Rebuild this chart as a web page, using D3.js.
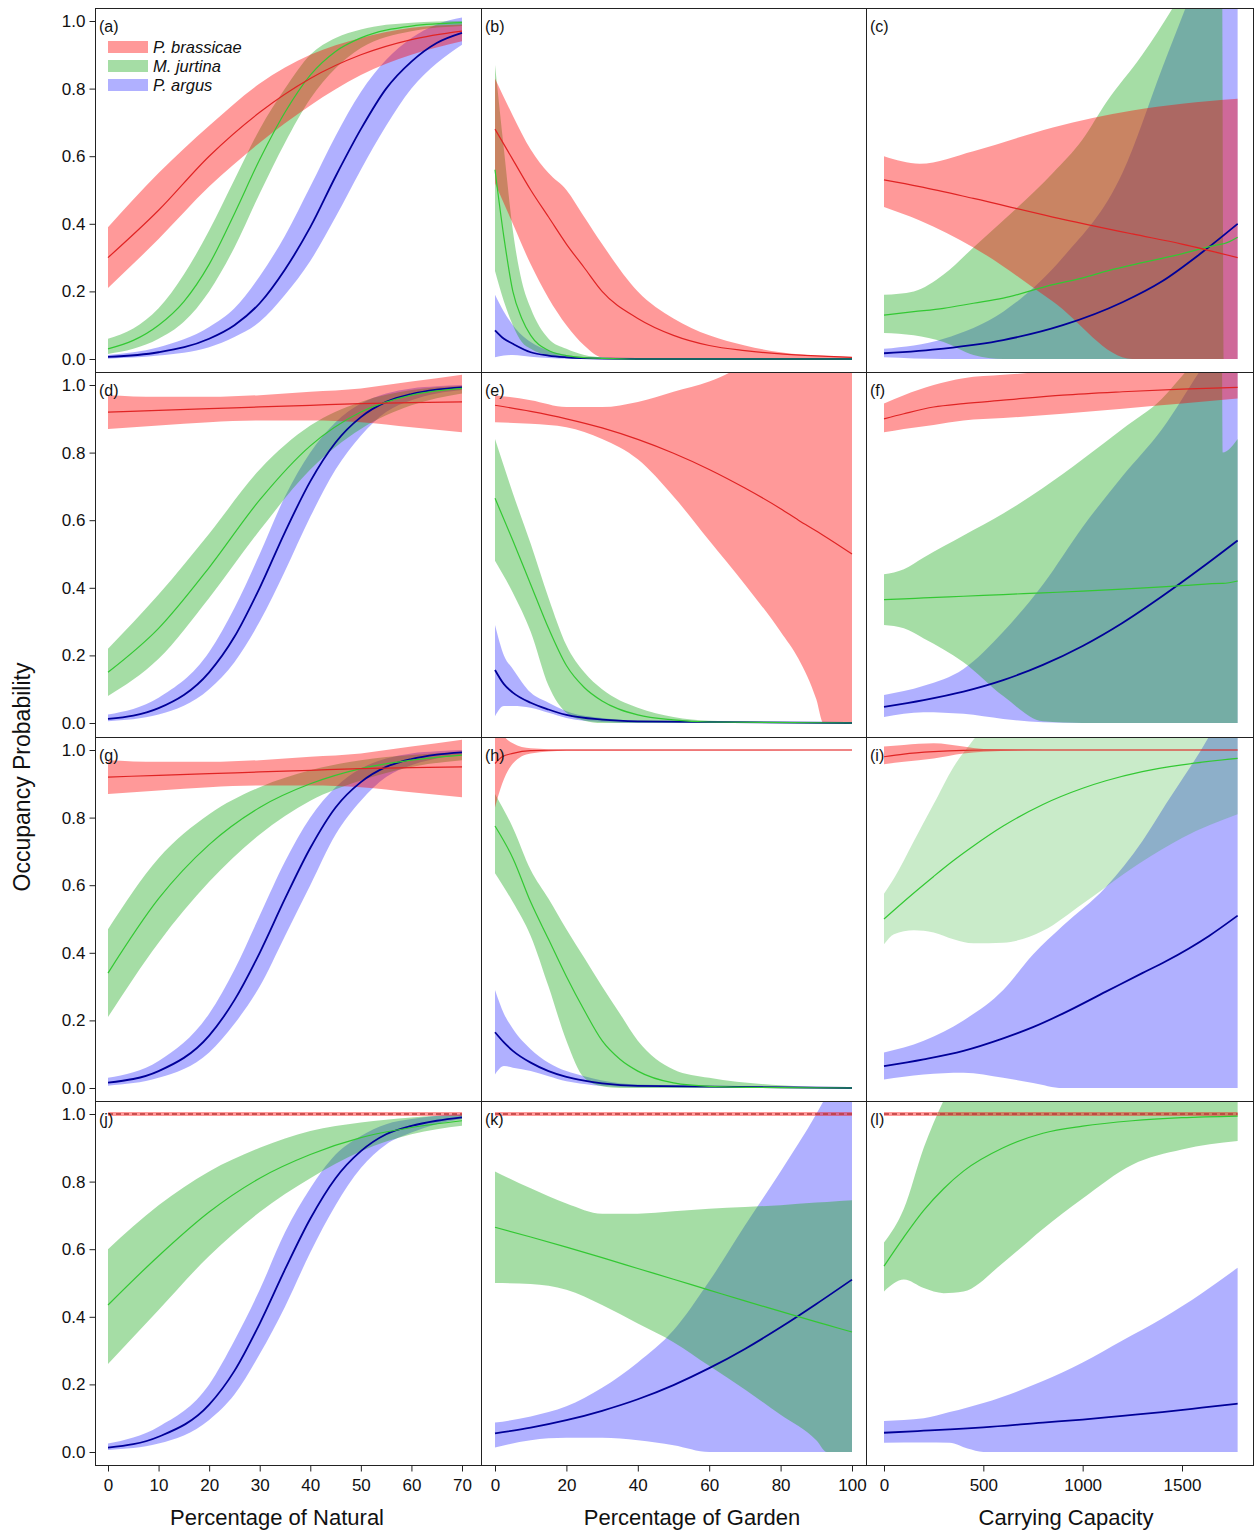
<!DOCTYPE html>
<html>
<head>
<meta charset="utf-8">
<script src="https://cdn.jsdelivr.net/npm/d3@7"></script>
<style>
body { margin: 0; background: #fff; }
text { font-family: Arial, "Liberation Sans", sans-serif; fill: #111; }
</style>
</head>
<body>
<svg id="chart" width="1256" height="1531"></svg>
<script>
// ---- data: rows are [x, fit, lower, upper] ----
var species = ["P. brassicae", "M. jurtina", "P. argus"];
var panelLetters = ["a", "b", "c", "d", "e", "f", "g", "h", "i", "j", "k", "l"];
var xTitles = ["Percentage of Natural", "Percentage of Garden", "Carrying Capacity"];
var xTicksNatural = [0, 10, 20, 30, 40, 50, 60, 70];
var xTicksGarden = [0, 20, 40, 60, 80, 100];
var xTicksCapacity = [0, 500, 1000, 1500];
var yTicks = [0, 0.2, 0.4, 0.6, 0.8, 1.0];

var a_brassicae = [[0,.30,.21,.39],[10,.44,.355,.55],[20,.60,.51,.69],[30,.73,.64,.815],[40,.83,.75,.90],[50,.90,.84,.95],[60,.945,.90,.98],[70,.97,.94,.99]];
var a_jurtina = [[0,.03,.015,.06],[5,.055,.03,.09],[10,.10,.06,.15],[15,.17,.11,.25],[20,.28,.20,.38],[25,.43,.33,.53],[30,.59,.49,.68],[35,.73,.64,.80],[40,.84,.77,.90],[45,.91,.86,.95],[50,.95,.92,.975],[60,.985,.97,.995],[70,.995,.985,1.0]];
var a_argus = [[0,.006,.001,.012],[10,.02,.01,.035],[20,.06,.035,.095],[25,.10,.065,.15],[30,.165,.11,.245],[35,.265,.19,.365],[40,.39,.29,.51],[45,.54,.42,.66],[50,.68,.56,.79],[55,.80,.69,.885],[60,.88,.80,.95],[65,.935,.875,.99],[70,.965,.93,1.01]];

var b_brassicae = [[0,.68,.52,.83],[5,.59,.40,.72],[10,.50,.28,.62],[15,.42,.18,.55],[20,.34,.10,.50],[25,.27,.04,.42],[30,.20,.005,.34],[40,.12,0,.20],[50,.07,0,.12],[60,.04,0,.07],[70,.025,0,.04],[80,.015,0,.02],[90,.009,0,.01],[100,.005,0,.006]];
var b_jurtina = [[0,.56,.26,.87],[2.5,.36,.17,.62],[5,.20,.10,.38],[7.5,.12,.05,.23],[10,.07,.03,.15],[15,.025,.01,.06],[20,.01,.003,.03],[25,.004,.001,.012],[30,.002,0,.005],[40,0,0,.001],[100,0,0,0]];
var b_argus = [[0,.085,.005,.19],[2.5,.06,.01,.14],[5,.045,.012,.10],[10,.02,.007,.05],[15,.01,.003,.025],[20,.005,.001,.012],[30,.001,0,.003],[40,0,0,.001],[100,0,0,0]];

var c_brassicae = [[0,.53,.45,.60],[180,.51,.41,.578],[450,.475,.33,.615],[850,.42,.17,.685],[1250,.37,0,.735],[1500,.34,0,.755],[1780,.30,0,.77]];
var c_jurtina = [[0,.13,.077,.19],[150,.14,.07,.20],[300,.15,.05,.25],[450,.165,.012,.33],[600,.18,0,.41],[850,.22,0,.55],[1000,.24,0,.65],[1120,.26,0,.76],[1300,.285,0,.90],[1455,.305,0,1.04],[1700,.34,0,1.3],[1710,.341,0,0],[1780,.36,0,0]];
var c_argus = [[0,.017,.005,.03],[300,.031,0,.06],[600,.056,0,.14],[900,.10,0,.30],[1200,.168,0,.55],[1400,.23,0,.86],[1600,.315,0,1.17],[1780,.40,0,1.5]];

var d_brassicae = [[0,.92,.87,.97],[10,.925,.88,.965],[20,.93,.89,.965],[30,.935,.895,.97],[40,.94,.895,.98],[50,.945,.89,.99],[60,.948,.875,1.01],[70,.95,.86,1.03]];
var d_jurtina = [[0,.15,.08,.22],[10,.28,.19,.38],[20,.46,.37,.56],[30,.66,.57,.75],[40,.82,.75,.88],[50,.92,.87,.95],[60,.97,.94,.985],[70,.99,.975,.997]];
var d_argus = [[0,.012,.005,.025],[10,.044,.025,.075],[20,.15,.10,.21],[25,.255,.18,.34],[30,.40,.30,.50],[35,.565,.45,.67],[40,.715,.61,.80],[45,.83,.75,.89],[50,.905,.85,.945],[55,.95,.92,.975],[60,.973,.955,.99],[65,.986,.975,.996],[70,.993,.985,1.0]];

var e_brassicae = [[0,.94,.89,.97],[10,.922,.885,.955],[20,.90,.875,.935],[30,.873,.84,.935],[40,.839,.78,.95],[50,.798,.67,.98],[60,.75,.54,1.01],[70,.695,.41,1.06],[80,.634,.27,1.12],[85,.60,.19,1.15],[90,.568,.07,1.18],[92,.555,0,1.19],[100,.50,0,1.22]];
var e_jurtina = [[0,.665,.48,.84],[5,.54,.385,.68],[10,.41,.27,.53],[15,.28,.11,.37],[20,.17,.03,.23],[25,.105,.007,.15],[30,.065,0,.10],[40,.024,0,.045],[50,.009,0,.018],[60,.003,0,.007],[100,0,0,0]];
var e_argus = [[0,.157,.02,.29],[2.5,.115,.05,.20],[5,.09,.05,.16],[10,.06,.045,.09],[15,.04,.03,.06],[20,.024,.015,.035],[30,.01,.003,.015],[40,.005,0,.007],[100,0,0,0]];

var f_brassicae = [[0,.90,.86,.945],[100,.915,.87,.97],[250,.935,.882,1.0],[400,.945,.895,1.02],[600,.955,.902,1.03],[900,.97,.915,1.04],[1200,.98,.93,1.04],[1500,.988,.945,1.04],[1780,.993,.96,1.04]];
var f_jurtina = [[0,.365,.29,.44],[100,.367,.28,.455],[200,.37,.25,.49],[400,.375,.18,.555],[600,.38,.08,.62],[800,.385,.005,.695],[1000,.39,0,.78],[1200,.396,0,.87],[1400,.403,0,.96],[1520,.407,0,1.04],[1700,.413,0,1.15],[1705,.413,0,.80],[1780,.42,0,.84]];
var f_argus = [[0,.048,.018,.083],[200,.068,.032,.11],[400,.093,.027,.16],[600,.127,.012,.27],[800,.172,.002,.41],[1000,.228,0,.58],[1200,.296,0,.73],[1400,.375,0,.87],[1600,.46,0,1.05],[1780,.54,0,1.2]];

var g_brassicae = [[0,.92,.87,.97],[10,.925,.88,.965],[20,.93,.89,.965],[30,.935,.895,.97],[40,.94,.895,.98],[50,.945,.89,.99],[60,.948,.875,1.01],[70,.95,.86,1.03]];
var g_jurtina = [[0,.34,.21,.47],[10,.56,.43,.68],[20,.72,.61,.81],[30,.83,.75,.89],[40,.90,.85,.94],[50,.945,.91,.97],[60,.97,.95,.985],[70,.985,.97,.995]];
var g_argus = [[0,.016,.007,.03],[10,.05,.03,.08],[20,.155,.105,.22],[25,.26,.19,.35],[30,.40,.30,.51],[35,.56,.45,.67],[40,.71,.60,.80],[45,.83,.75,.89],[50,.905,.85,.945],[55,.95,.92,.975],[60,.973,.955,.99],[65,.986,.975,.996],[70,.993,.985,1.0]];

var h_brassicae = [[0,.96,.83,1.1],[2,.98,.90,1.05],[5,.99,.96,1.02],[10,.998,.99,1.005],[20,1,.998,1.001],[100,1,.999,1.001]];
var h_jurtina = [[0,.775,.635,.87],[5,.68,.55,.77],[10,.55,.45,.645],[15,.44,.30,.56],[20,.33,.14,.47],[25,.23,.03,.385],[30,.14,.005,.30],[35,.085,0,.22],[40,.05,0,.14],[50,.015,0,.055],[60,.005,0,.03],[80,.001,0,.008],[100,0,0,0]];
var h_argus = [[0,.165,.04,.29],[2.5,.135,.065,.22],[5,.11,.06,.175],[10,.075,.05,.115],[15,.05,.035,.075],[20,.033,.02,.05],[25,.022,.012,.035],[30,.014,.006,.022],[40,.006,.002,.01],[100,0,0,0]];

var i_brassicae = [[0,.98,.958,1.01],[100,.988,.965,1.015],[250,.995,.975,1.02],[400,.999,.99,1.01],[500,1,.995,1.003],[800,1,.999,1.001],[1780,1,.999,1.001]];
var i_jurtina = [[0,.50,.425,.575],[50,.526,.455,.62],[150,.577,.467,.73],[250,.626,.46,.84],[350,.673,.44,.95],[450,.716,.428,1.03],[600,.775,.43,1.15],[800,.839,.465,1.3],[1000,.887,.545,1.4],[1117,.909,.595,1.45],[1300,.936,.67,1.5],[1500,.956,.74,1.55],[1780,.975,.81,1.6]];
var i_argus = [[0,.065,.025,.105],[200,.085,.04,.14],[400,.11,.045,.20],[600,.147,.03,.29],[750,.18,.015,.395],[900,.22,0,.48],[1117,.285,0,.595],[1300,.34,0,.73],[1419,.375,0,.84],[1636,.45,0,1.04],[1780,.51,0,1.2]];

var j_brassicae = [[0,1,.994,1.006],[70,1,.994,1.006]];
var j_jurtina = [[0,.435,.26,.60],[10,.58,.42,.73],[20,.71,.58,.83],[30,.81,.71,.90],[40,.88,.81,.95],[50,.93,.89,.975],[60,.96,.94,.99],[70,.98,.965,.997]];
var j_argus = [[0,.013,.006,.025],[10,.045,.025,.075],[20,.14,.095,.20],[25,.24,.17,.33],[30,.38,.29,.48],[35,.54,.43,.65],[40,.69,.59,.78],[45,.81,.73,.88],[50,.89,.84,.935],[55,.94,.91,.97],[60,.965,.945,.985],[65,.98,.97,.995],[70,.99,.985,1.0]];

var k_brassicae = [[0,1,.994,1.006],[100,1,.994,1.006]];
var k_jurtina = [[0,.665,.50,.83],[10,.636,.497,.78],[20,.606,.48,.735],[30,.575,.435,.705],[40,.543,.38,.705],[50,.511,.325,.712],[60,.479,.255,.72],[70,.447,.185,.725],[80,.416,.11,.73],[90,.385,.035,.738],[93,.376,0,.74],[100,.355,0,.745]];
var k_argus = [[0,.055,.013,.087],[10,.072,.035,.105],[20,.094,.042,.135],[30,.122,.042,.19],[40,.156,.035,.265],[50,.198,.02,.36],[60,.248,0,.505],[70,.305,0,.67],[80,.369,0,.83],[90,.438,0,1.0],[100,.51,0,1.2]];

var l_brassicae = [[0,1,.994,1.006],[1780,1,.994,1.006]];
var l_jurtina = [[0,.55,.475,.62],[100,.636,.51,.72],[200,.715,.485,.90],[300,.779,.47,1.04],[400,.831,.475,1.15],[600,.90,.56,1.3],[800,.943,.66,1.4],[1000,.964,.75,1.4],[1250,.98,.85,1.4],[1500,.989,.895,1.4],[1780,.994,.92,1.4]];
var l_argus = [[0,.057,.027,.092],[200,.063,.028,.10],[330,.067,.027,.118],[420,.070,.01,.132],[500,.073,0,.145],[800,.087,0,.21],[1000,.096,0,.265],[1200,.107,0,.33],[1400,.118,0,.395],[1600,.131,0,.47],[1780,.143,0,.545]];

// ---- panels built from the arrays above (series order: brassicae, jurtina, argus) ----
var panels = [
    [a_brassicae, a_jurtina, a_argus], [b_brassicae, b_jurtina, b_argus], [c_brassicae, c_jurtina, c_argus],
    [d_brassicae, d_jurtina, d_argus], [e_brassicae, e_jurtina, e_argus], [f_brassicae, f_jurtina, f_argus],
    [g_brassicae, g_jurtina, g_argus], [h_brassicae, h_jurtina, h_argus], [i_brassicae, i_jurtina, i_argus],
    [j_brassicae, j_jurtina, j_argus], [k_brassicae, k_jurtina, k_argus], [l_brassicae, l_jurtina, l_argus]
];
var xDomains = [[0, 70], [0, 100], [0, 1500]];
var xTickSets = [xTicksNatural, xTicksGarden, xTicksCapacity];

// ---- layout / style ----
var colLeft = [95, 481, 866], colRight = [481, 866, 1253];
var rowTop = [8, 372, 737, 1101], rowBottom = [372, 737, 1101, 1465];
var xRanges = [[108, 462], [495, 852], [884, 1182]];
var bandFill = ["rgba(255,0,0,0.4)", "rgba(30,170,30,0.4)", "rgba(0,0,255,0.31)"];
var legendFill = ["#ff9999", "#a5dda5", "#b0b0ff"];
var lineColor = ["#e02424", "#33c833", "#000099"];
var lineWidth = [1.2, 1.2, 1.8];
var drawOrder = [2, 1, 0];
var dashedRed = ["j", "k", "l"];
var paleGreen = ["i"];

var svg = d3.select('#chart');

panels.forEach(function (series, i) {
    var col = i % 3, row = Math.floor(i / 3);
    var letter = panelLetters[i];
    var x = d3.scaleLinear().domain(xDomains[col]).range(xRanges[col]);
    var y = d3.scaleLinear().domain([0, 1]).range([rowTop[row] + 351, rowTop[row] + 13]);

    var g = svg.append('g').attr('id', 'panel-' + letter);

    g.append('clipPath').attr('id', 'clip-' + letter)
        .append('rect')
        .attr('x', colLeft[col]).attr('y', rowTop[row])
        .attr('width', colRight[col] - colLeft[col])
        .attr('height', rowBottom[row] - rowTop[row]);

    var plot = g.append('g').attr('clip-path', 'url(#clip-' + letter + ')');

    var area = d3.area()
        .x(function (d) { return x(d[0]); })
        .y0(function (d) { return y(d[2]); })
        .y1(function (d) { return y(d[3]); })
        .curve(d3.curveMonotoneX);
    var line = d3.line()
        .x(function (d) { return x(d[0]); })
        .y(function (d) { return y(d[1]); })
        .curve(d3.curveMonotoneX);

    drawOrder.forEach(function (s) {
        var fill = bandFill[s];
        if (s === 1 && paleGreen.indexOf(letter) >= 0) fill = "rgba(30,170,30,0.24)";
        plot.append('path')
            .datum(series[s])
            .attr('d', area)
            .style('fill', fill)
            .style('stroke', 'none');
    });
    drawOrder.forEach(function (s) {
        var dashed = (s === 0 && dashedRed.indexOf(letter) >= 0);
        plot.append('path')
            .datum(series[s])
            .attr('d', line)
            .style('fill', 'none')
            .style('stroke', dashed ? '#b83a3a' : lineColor[s])
            .style('stroke-width', dashed ? 1.4 : lineWidth[s])
            .style('stroke-dasharray', dashed ? '5,3' : null);
    });

    // frame
    g.append('rect')
        .attr('x', colLeft[col] + 0.5).attr('y', rowTop[row] + 0.5)
        .attr('width', colRight[col] - colLeft[col])
        .attr('height', rowBottom[row] - rowTop[row])
        .style('fill', 'none')
        .style('stroke', '#222')
        .style('stroke-width', 1);

    g.append('text')
        .attr('x', colLeft[col] + 4)
        .attr('y', rowTop[row] + 24)
        .style('font-size', '16px')
        .text('(' + letter + ')');

    if (col === 0) {
        var ya = g.append('g')
            .attr('transform', 'translate(' + (colLeft[col] + 0.5) + ',0)')
            .call(d3.axisLeft(y).tickValues(yTicks).tickFormat(d3.format('.1f')).tickSize(6).tickPadding(4));
        ya.select('.domain').remove();
        ya.selectAll('text').style('font-size', '17px').attr('fill', '#111');
        ya.selectAll('line').attr('stroke', '#222');
    }
    if (row === 3) {
        var xa = g.append('g')
            .attr('transform', 'translate(0,' + (rowBottom[row] + 0.5) + ')')
            .call(d3.axisBottom(x).tickValues(xTickSets[col]).tickFormat(d3.format('d')).tickSize(6).tickPadding(7));
        xa.select('.domain').remove();
        xa.selectAll('text').style('font-size', '17px').attr('fill', '#111');
        xa.selectAll('line').attr('stroke', '#222');
    }
});

// axis titles
var xTitleX = [277, 692, 1066];
svg.selectAll('.x-title')
    .data(xTitles)
    .enter().append('text')
    .attr('class', 'x-title')
    .attr('x', function (d, i) { return xTitleX[i]; })
    .attr('y', 1525)
    .attr('text-anchor', 'middle')
    .style('font-size', '22px')
    .text(function (d) { return d; });

svg.append('text')
    .attr('transform', 'translate(30,777) rotate(-90)')
    .attr('text-anchor', 'middle')
    .style('font-size', '23px')
    .text('Occupancy Probability');

// legend in panel (a)
var legend = svg.append('g').attr('id', 'legend');
species.forEach(function (name, i) {
    var cy = 47 + i * 19;
    legend.append('rect')
        .attr('x', 108).attr('y', cy - 6)
        .attr('width', 40).attr('height', 12)
        .style('fill', legendFill[i]);
    legend.append('text')
        .attr('x', 153).attr('y', cy + 6)
        .style('font-size', '16.5px')
        .style('font-style', 'italic')
        .text(name);
});
</script>
</body>
</html>
